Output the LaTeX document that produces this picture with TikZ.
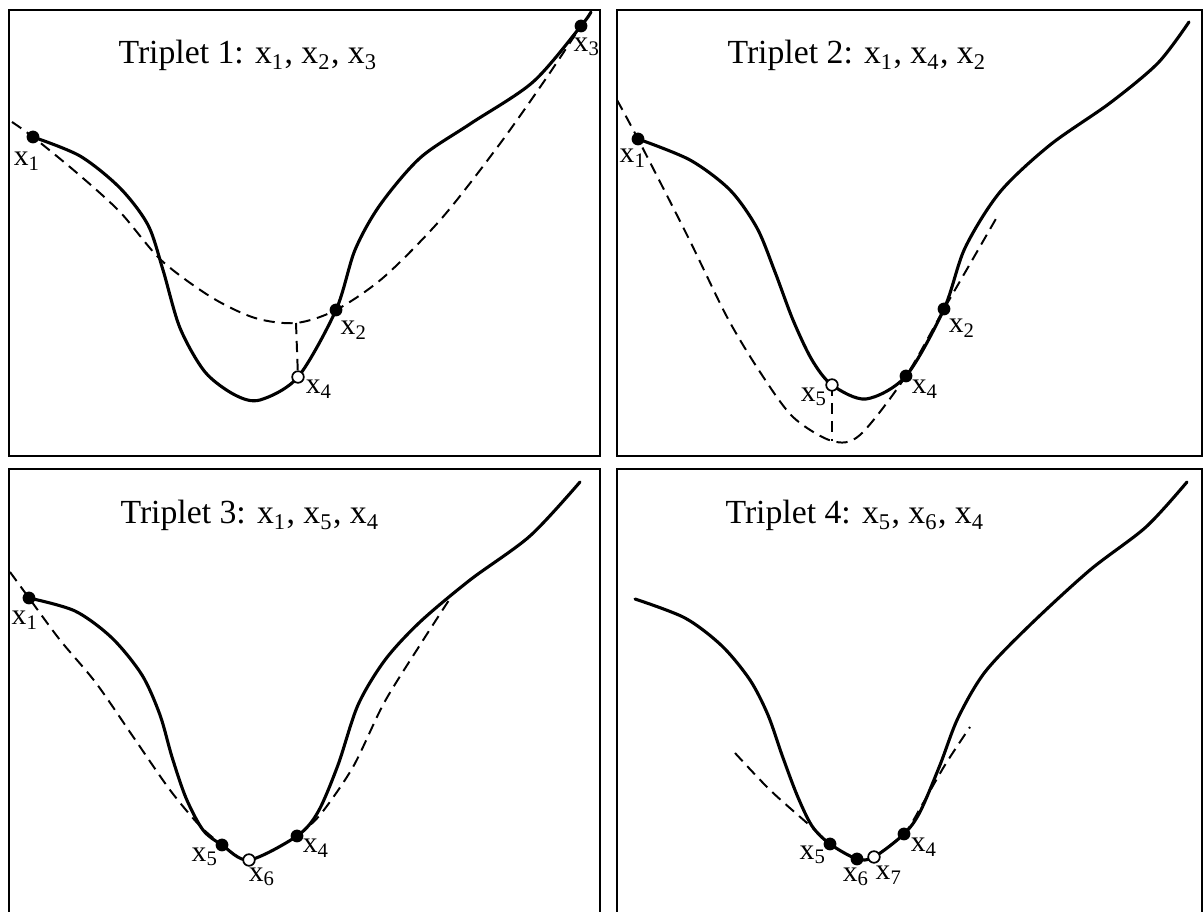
\documentclass[tikz,border=0pt]{standalone}
\usepackage{fontspec}
\setmainfont{Liberation Serif}
\newcommand{\xsub}[1]{x\textsubscript{#1}}

\begin{document}
\begin{tikzpicture}[x=0.125mm, y=-0.125mm,
    panel/.style={draw, line width=0.8pt},
    func/.style={line width=1.1pt, line join=round, line cap=round},
    parab/.style={line width=0.7pt, dash pattern=on 1.4mm off 0.85mm},
    dot/.style={circle, fill, inner sep=0pt, minimum size=1.6mm},
    odot/.style={circle, draw, fill=white, line width=0.6pt, inner sep=0pt, minimum size=1.45mm},
    lbl/.style={font=\fontsize{10.5}{12}\selectfont, inner sep=0pt},
    heading/.style={font=\fontsize{12}{14}\selectfont, anchor=base, inner sep=0pt}]
    \useasboundingbox (0,0) rectangle (1204,912);
    \clip (0,0) rectangle (1204,912);

    % Triplet 1
    \draw[panel] (9,10) rectangle (600,456);
    \node[heading] (t1) at (248,64) {Triplet 1: \xsub1, \xsub2, \xsub3};
    \coordinate (a1) at (33,137);
    \coordinate (a2) at (336,310);
    \coordinate (a3) at (581,26);
    \coordinate (a4) at (298,377);
    \coordinate (a4t) at (296,323);
    \draw[func] plot[smooth] coordinates {(a1) (80,156) (120,188) (148,225) (163,270) (180,328) (205,372) (235,395) (260,400) (a4) (a2) (355,250) (380,205) (420,158) (470,124) (533,82) (a3) (591,12)};
    \draw[parab] plot[smooth] coordinates {(12,122) (a1) (77,173) (120,212) (161,260) (211,297) (255,318) (a4t) (a2) (384,277) (442,218) (499,145) (545,80) (a3)};
    \draw[parab] (a4t) -- (a4);
    \node[dot] (d-a1) at (a1) {};
    \node[dot] (d-a2) at (a2) {};
    \node[dot] (d-a3) at (a3) {};
    \node[odot] (d-a4) at (a4) {};
    \node[lbl] (l-a1) at (27,161) {\xsub1};
    \node[lbl] (l-a2) at (354,330) {\xsub2};
    \node[lbl] (l-a3) at (587,47) {\xsub3};
    \node[lbl] (l-a4) at (319,389) {\xsub4};

    % Triplet 2
    \draw[panel] (617,10) rectangle (1202,456);
    \node[heading] (t2) at (857,64) {Triplet 2: \xsub1, \xsub4, \xsub2};
    \coordinate (b1) at (638,139);
    \coordinate (b2) at (944,309);
    \coordinate (b4) at (906,376);
    \coordinate (b5) at (832,385);
    \coordinate (b5t) at (832,441);
    \draw[func] plot[smooth] coordinates {(b1) (690,160) (730,190) (757,228) (775,272) (793,320) (812,360) (b5) (866,399) (b4) (b2) (965,248) (1000,192) (1050,145) (1110,103) (1158,63) (1189,22)};
    \draw[parab] plot[smooth] coordinates {(617,100) (b1) (688,237) (727,317) (760,372) (793,417) (b5t) (860,435) (b4) (b2) (974,257) (997,217)};
    \draw[parab] (b5) -- (b5t);
    \node[dot] (d-b1) at (b1) {};
    \node[dot] (d-b2) at (b2) {};
    \node[dot] (d-b4) at (b4) {};
    \node[odot] (d-b5) at (b5) {};
    \node[lbl] (l-b1) at (633,158) {\xsub1};
    \node[lbl] (l-b2) at (962,328) {\xsub2};
    \node[lbl] (l-b4) at (925,389) {\xsub4};
    \node[lbl] (l-b5) at (814,397) {\xsub5};

    % Triplet 3
    \draw[panel] (9,469) rectangle (600,920);
    \node[heading] (t3) at (250,524) {Triplet 3: \xsub1, \xsub5, \xsub4};
    \coordinate (c1) at (29,598);
    \coordinate (c4) at (297,836);
    \coordinate (c5) at (222,845);
    \coordinate (c6) at (249,860);
    \draw[func] plot[smooth] coordinates {(c1) (75,611) (112,638) (142,675) (160,715) (172,757) (186,798) (203,830) (c5) (c6) (c4) (318,812) (338,765) (358,705) (385,660) (420,622) (470,580) (530,536) (580,482)};
    \draw[parab] plot[smooth] coordinates {(10,572) (c1) (60,640) (96,683) (134,738) (170,790) (200,826) (c5)};
    \draw[parab] plot[smooth] coordinates {(c4) (320,815) (353,767) (384,703) (420,645) (451,597)};
    \node[dot] (d-c1) at (c1) {};
    \node[dot] (d-c4) at (c4) {};
    \node[dot] (d-c5) at (c5) {};
    \node[odot] (d-c6) at (c6) {};
    \node[lbl] (l-c1) at (25,620) {\xsub1};
    \node[lbl] (l-c4) at (316,848) {\xsub4};
    \node[lbl] (l-c5) at (205,857) {\xsub5};
    \node[lbl] (l-c6) at (262,877) {\xsub6};

    % Triplet 4
    \draw[panel] (617,469) rectangle (1202,920);
    \node[heading] (t4) at (855,524) {Triplet 4: \xsub5, \xsub6, \xsub4};
    \coordinate (e4) at (904,834);
    \coordinate (e5) at (830,844);
    \coordinate (e6) at (857,859);
    \coordinate (e7) at (874,857);
    \draw[func] plot[smooth] coordinates {(635,599) (685,618) (722,646) (750,680) (768,715) (782,755) (797,795) (812,826) (e5) (e6) (e7) (e4) (920,812) (940,765) (958,718) (985,672) (1030,625) (1090,570) (1146,527) (1187,482)};
    \draw[parab] plot[smooth] coordinates {(735,753) (770,790) (807,823) (818,833)};
    \draw[parab] plot[smooth] coordinates {(e7) (e4) (922,805) (945,765) (970,727)};
    \node[dot] (d-e4) at (e4) {};
    \node[dot] (d-e5) at (e5) {};
    \node[dot] (d-e6) at (e6) {};
    \node[odot] (d-e7) at (e7) {};
    \node[lbl] (l-e4) at (924,847) {\xsub4};
    \node[lbl] (l-e5) at (813,855) {\xsub5};
    \node[lbl] (l-e6) at (856,877) {\xsub6};
    \node[lbl] (l-e7) at (889,875) {\xsub7};
\end{tikzpicture}
\end{document}
